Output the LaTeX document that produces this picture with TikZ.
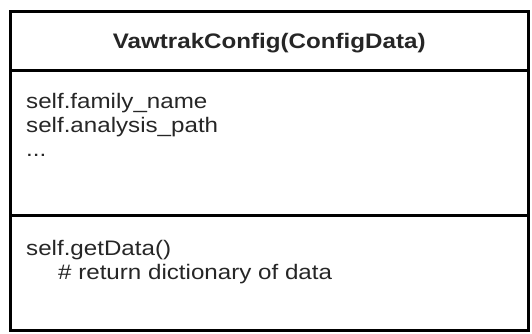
\documentclass[tikz,border=0pt]{standalone}
\usepackage{fontspec}
\setmainfont{Liberation Sans}[FakeStretch=1.15]
\usetikzlibrary{positioning}

\begin{document}
\begin{tikzpicture}[
    x=1pt, y=-1pt,
    font=\fontsize{21}{24}\selectfont,
    text=black!85,
    % Style des compartiments
    part/.style={
        rectangle,
        draw=black,
        line width=3pt,
        minimum width=517.5pt,
        inner sep=0pt,
        outer sep=0pt
    },
    member/.style={
        anchor=north west,
        inner sep=0pt,
        align=left
    }
]
    \useasboundingbox (0,0) rectangle (532,333);

    % --- COMPARTIMENTS ---
    \node[part, minimum height=58.5pt, anchor=north west] (head) at (10.5,11.5) {};
    \node[part, minimum height=145pt, below=0pt of head] (fields) {};
    \node[part, minimum height=115pt, below=0pt of fields] (methods) {};

    % --- TEXTES ---
    \node[font=\fontsize{21}{24}\selectfont\bfseries, yshift=-2pt] (title) at (head) {VawtrakConfig(ConfigData)};
    \node[member] (fieldtext) at (26,93) {self.family\_name\\self.analysis\_path\\...};
    \node[member] (methodtext) at (26,240) {self.getData()\\\hspace{32pt}\# return dictionary of data};

\end{tikzpicture}
\end{document}
